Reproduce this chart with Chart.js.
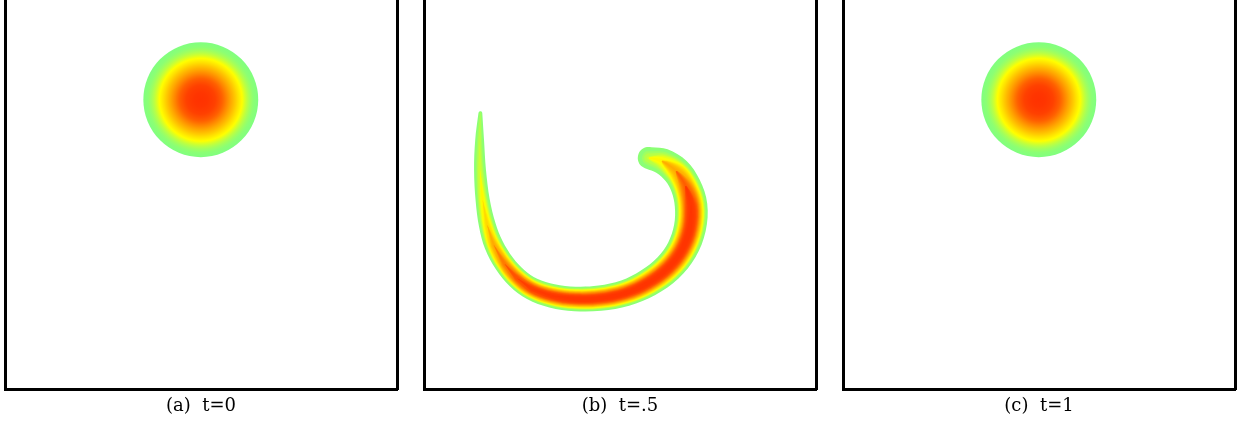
<!DOCTYPE html>
<html>
<head>
<meta charset="utf-8">
<script src="https://cdn.jsdelivr.net/npm/chart.js@4.4.1/dist/chart.umd.min.js"></script>
<style>
  html, body { margin: 0; padding: 0; background: #fff; }
  body { width: 1239px; height: 423px; position: relative; overflow: hidden; }
  .panel { position: absolute; top: 0; width: 401px; height: 423px; }
</style>
</head>
<body>
<div class="panel" style="left:0px"><canvas id="panelA" width="401" height="423"></canvas></div>
<div class="panel" style="left:419px"><canvas id="panelB" width="401" height="423"></canvas></div>
<div class="panel" style="left:838px"><canvas id="panelC" width="401" height="423"></canvas></div>
<script>
// Panel captions
const captions = ['(a)  t=0', '(b)  t=.5', '(c)  t=1'];

// Hump at t=0 and t=1: centre, radius and peak value
const humpX = [0.5];
const humpY = [0.75];
const humpRadius = [0.15];
const humpPeak = [1];

// Stretched filament at t=.5: centre line, band width and peak value along it
const swirlX = [0.136, 0.134, 0.135, 0.142, 0.154, 0.171, 0.199, 0.232, 0.271, 0.323, 0.383,
                0.448, 0.514, 0.574, 0.626, 0.662, 0.683, 0.686, 0.672, 0.647, 0.610, 0.576];
const swirlY = [0.715, 0.645, 0.567, 0.488, 0.423, 0.371, 0.322, 0.284, 0.256, 0.238, 0.230,
                0.232, 0.245, 0.272, 0.311, 0.358, 0.415, 0.475, 0.525, 0.564, 0.590, 0.598];
const swirlWidth = [0.010, 0.023, 0.031, 0.037, 0.044, 0.050, 0.054, 0.057, 0.059, 0.062, 0.064,
                    0.066, 0.069, 0.074, 0.078, 0.081, 0.084, 0.085, 0.080, 0.076, 0.068, 0.058];
const swirlPeak = [0.05, 0.08, 0.12, 0.20, 0.30, 0.45, 0.62, 0.78, 0.90, 0.95, 1.00,
                   1.00, 1.00, 1.00, 1.00, 1.00, 1.00, 0.95, 0.70, 0.45, 0.20, 0.10];

// Visible window of the unit square
const xMin = -0.0112, xMax = 1.0123;
const yMin = -0.0052, yMax = 1.0104;

// Colour scale: 0 (edge) light green -> yellow -> orange -> red (peak)
const cmapStops = [0, 0.09, 0.18, 0.35, 0.52, 0.70, 0.85, 1];
const cmapRGB = [[128,255,128],[190,255,64],[255,255,0],[255,200,0],[255,150,0],[255,95,0],[255,65,0],[255,50,0]];
function cmap(v) {
  v = Math.max(0, Math.min(1, v));
  for (let i = 1; i < cmapStops.length; i++) {
    if (v <= cmapStops[i]) {
      const t = (v - cmapStops[i-1]) / (cmapStops[i] - cmapStops[i-1]);
      const a = cmapRGB[i-1], b = cmapRGB[i];
      return 'rgb(' + a.map((c, k) => Math.round(c + (b[k] - c) * t)).join(',') + ')';
    }
  }
  return 'rgb(' + cmapRGB[cmapRGB.length-1].join(',') + ')';
}

// Cosine-bell profile: fraction of the full width where the value is >= level
function bellFraction(level, peak) {
  if (level >= peak) return 0;
  const c = Math.max(-1, Math.min(1, 2 * level / peak - 1));
  return Math.acos(c) / Math.PI;
}

function unitPx(chart) {
  const s = chart.scales && chart.scales.x;
  if (!s) return 0;
  const u = Math.abs(s.getPixelForValue(1) - s.getPixelForValue(0));
  return isFinite(u) ? u : 0;
}

function humpRadiusPx(ctx) {
  return (ctx.type === 'data' && ctx.raw) ? ctx.raw.r * unitPx(ctx.chart) : 0;
}

function humpDataset() {
  return {
    data: humpX.map((x, i) => ({ x, y: humpY[i], r: humpRadius[i], peak: humpPeak[i] })),
    showLine: false,
    pointBorderWidth: 0,
    pointRadius: humpRadiusPx,
    pointHoverRadius: humpRadiusPx,
    pointBackgroundColor: ctx => {
      if (ctx.type !== 'data' || !ctx.raw) return cmap(0);
      const chart = ctx.chart;
      const px = chart.scales.x.getPixelForValue(ctx.raw.x);
      const py = chart.scales.y.getPixelForValue(ctx.raw.y);
      const rad = ctx.raw.r * unitPx(chart);
      if (![px, py, rad].every(isFinite) || rad <= 0) return cmap(0);
      const g = chart.ctx.createRadialGradient(px, py, 0, px, py, rad);
      const n = 60;
      for (let k = 0; k <= n; k++) {
        const v = ctx.raw.peak * k / n;
        g.addColorStop(bellFraction(v, ctx.raw.peak + 1e-9), cmap(v));
      }
      return g;
    }
  };
}

// Outline of the filament region where the value is >= level,
// built by offsetting the centre line sideways by half the local width.
function contourOutline(level) {
  const n = swirlX.length;
  const half = swirlX.map((_, i) => 0.5 * bellFraction(level, swirlPeak[i]) * swirlWidth[i]);
  const tang = swirlX.map((_, i) => {
    const a = Math.max(0, i - 1), b = Math.min(n - 1, i + 1);
    const dx = swirlX[b] - swirlX[a], dy = swirlY[b] - swirlY[a];
    const l = Math.hypot(dx, dy) || 1;
    return [dx / l, dy / l];
  });
  const idx = [];
  for (let i = 0; i < n; i++) if (half[i] > 0) idx.push(i);
  if (!idx.length) return null;
  const a = idx[0], b = idx[idx.length - 1];
  const start = Math.max(0, a - 1), end = Math.min(n - 1, b + 1);
  const side = (i, s) => ({ x: swirlX[i] - s * tang[i][1] * half[i], y: swirlY[i] + s * tang[i][0] * half[i] });
  // rounded end: sweep from the +side round the tip to the -side
  const cap = (i, dir) => {
    const pts = [];
    for (const ang of [60, 30, 0, -30, -60]) {
      const r = ang * Math.PI / 180;
      const tx = dir * tang[i][0], ty = dir * tang[i][1];
      const cx = tx * Math.cos(r) - ty * Math.sin(r);
      const cy = tx * Math.sin(r) + ty * Math.cos(r);
      pts.push({ x: swirlX[i] + cx * half[i], y: swirlY[i] + cy * half[i] });
    }
    return pts;
  };
  const pts = [];
  for (let i = start; i <= end; i++) {
    if (half[i] > 0) pts.push(side(i, 1)); else pts.push({ x: swirlX[i], y: swirlY[i] });
  }
  if (half[end] > 0) pts.push(...cap(end, 1));
  for (let i = end; i >= start; i--) if (half[i] > 0) pts.push(side(i, -1));
  if (half[start] > 0) pts.push(...cap(start, -1));
  return pts;
}

const LAYERS = 32;
function swirlDatasets() {
  const sets = [];
  for (let k = LAYERS - 1; k >= 0; k--) {
    const outline = contourOutline(k / LAYERS);
    if (!outline) continue;
    sets.push({
      data: outline,
      showLine: true,
      pointRadius: 0,
      pointHoverRadius: 0,
      tension: 0.35,
      borderWidth: 0,
      backgroundColor: cmap((k + 0.5) / LAYERS),
      fill: 'shape'
    });
  }
  return sets;
}

function frameAxis(extra) {
  return Object.assign({
    type: 'linear',
    grid: { display: false, drawTicks: false },
    ticks: { display: false },
    border: { display: true, color: '#000', width: 3 }
  }, extra);
}

function makePanel(id, caption, datasets) {
  return new Chart(document.getElementById(id), {
    type: 'scatter',
    data: { datasets },
    options: {
      responsive: false,
      animation: false,
      events: [],
      devicePixelRatio: 1,
      layout: { padding: { left: 5, right: 4, top: 0, bottom: 0 } },
      plugins: { legend: { display: false }, tooltip: { enabled: false } },
      scales: {
        x: frameAxis({
          min: xMin, max: xMax,
          title: {
            display: true, text: caption, color: '#000',
            font: { family: 'DejaVu Serif', size: 18, lineHeight: '20px' },
            padding: { top: 7, bottom: 7 }
          }
        }),
        y: frameAxis({ min: yMin, max: yMax }),
        y2: frameAxis({ position: 'right', min: yMin, max: yMax })
      }
    }
  });
}

makePanel('panelA', captions[0], [humpDataset()]);
makePanel('panelB', captions[1], swirlDatasets());
makePanel('panelC', captions[2], [humpDataset()]);
</script>
</body>
</html>
